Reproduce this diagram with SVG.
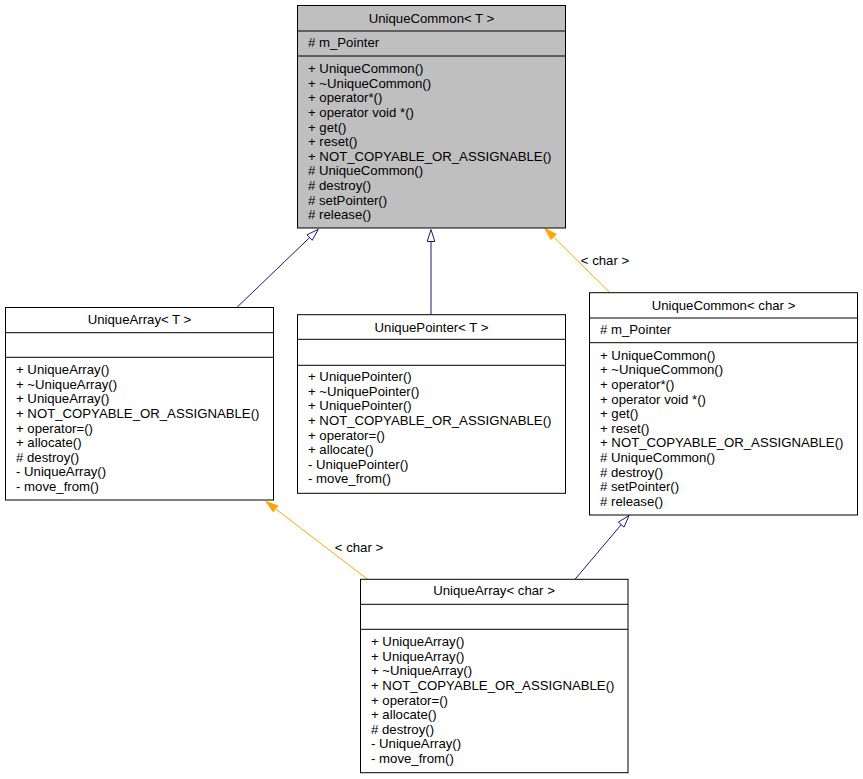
<svg xmlns="http://www.w3.org/2000/svg" width="863" height="779" viewBox="0 0 863 779">
<style>
  text { font-family: "Liberation Sans", Arial, sans-serif; font-size: 13.2px; fill: #000; }
  .t { text-anchor: middle; }
  .box { fill: #fff; stroke: #000; stroke-width: 1; }
  .boxg { fill: #bfbfbf; stroke: #000; stroke-width: 1; }
  .sep { stroke: #000; stroke-width: 1; }
  .inh { stroke: #191970; stroke-width: 1; fill: none; }
  .inhh { stroke: #191970; stroke-width: 1; fill: #fff; }
  .tpl { stroke: #ffa500; stroke-width: 1; fill: none; }
  .tplh { stroke: #ffa500; stroke-width: 1; fill: #ffa500; }
</style>
<rect width="863" height="779" fill="#fff"/>

<g id="connectors">
  <line class="inh" x1="237" y1="307.3" x2="309.6" y2="237.6"/>
  <polygon class="inhh" points="318.3,229.3 312.2,240.3 307,234.8"/>
  <line class="inh" x1="431" y1="314.7" x2="431" y2="241.5"/>
  <polygon class="inhh" points="431,229.5 434.8,241.5 427.2,241.5"/>
  <line class="tpl" x1="610" y1="292.7" x2="553.5" y2="236.9"/>
  <polygon class="tplh" points="545,228.5 556.2,234.2 550.9,239.6"/>
  <text x="605" y="264.5" class="t">&lt; char &gt;</text>
  <line class="tpl" x1="367.5" y1="579.3" x2="275.5" y2="508.8"/>
  <polygon class="tplh" points="266,501.5 277.8,505.8 273.2,511.8"/>
  <text x="359" y="551.5" class="t">&lt; char &gt;</text>
  <line class="inh" x1="575" y1="579.3" x2="621.2" y2="524.7"/>
  <polygon class="inhh" points="629,515.5 624.1,527.1 618.3,522.2"/>
</g>

<g id="UniqueCommonT">
  <rect class="boxg" x="297.5" y="5.5" width="268" height="222.5"/>
  <line class="sep" x1="297.5" y1="31" x2="565.5" y2="31"/>
  <line class="sep" x1="297.5" y1="56" x2="565.5" y2="56"/>
  <text x="431.5" y="23" class="t">UniqueCommon&lt; T &gt;</text>
  <text x="308" y="47.3"># m_Pointer</text>
  <text x="308" y="73.2">+ UniqueCommon()</text>
  <text x="308" y="87.8">+ ~UniqueCommon()</text>
  <text x="308" y="102.4">+ operator*()</text>
  <text x="308" y="117">+ operator void *()</text>
  <text x="308" y="131.6">+ get()</text>
  <text x="308" y="146.2">+ reset()</text>
  <text x="308" y="160.8">+ NOT_COPYABLE_OR_ASSIGNABLE()</text>
  <text x="308" y="175.4"># UniqueCommon()</text>
  <text x="308" y="190"># destroy()</text>
  <text x="308" y="204.6"># setPointer()</text>
  <text x="308" y="219.2"># release()</text>
</g>

<g id="UniqueArrayT">
  <rect class="box" x="5.5" y="307.5" width="268" height="192.5"/>
  <line class="sep" x1="5.5" y1="332.7" x2="273.5" y2="332.7"/>
  <line class="sep" x1="5.5" y1="357.3" x2="273.5" y2="357.3"/>
  <text x="139.5" y="324" class="t">UniqueArray&lt; T &gt;</text>
  <text x="16" y="374.2">+ UniqueArray()</text>
  <text x="16" y="388.8">+ ~UniqueArray()</text>
  <text x="16" y="403.4">+ UniqueArray()</text>
  <text x="16" y="418">+ NOT_COPYABLE_OR_ASSIGNABLE()</text>
  <text x="16" y="432.6">+ operator=()</text>
  <text x="16" y="447.2">+ allocate()</text>
  <text x="16" y="461.8"># destroy()</text>
  <text x="16" y="476.4">- UniqueArray()</text>
  <text x="16" y="491">- move_from()</text>
</g>

<g id="UniquePointerT">
  <rect class="box" x="297.5" y="314.7" width="268" height="178.6"/>
  <line class="sep" x1="297.5" y1="339.3" x2="565.5" y2="339.3"/>
  <line class="sep" x1="297.5" y1="365.3" x2="565.5" y2="365.3"/>
  <text x="431.5" y="331.5" class="t">UniquePointer&lt; T &gt;</text>
  <text x="308" y="381.2">+ UniquePointer()</text>
  <text x="308" y="395.8">+ ~UniquePointer()</text>
  <text x="308" y="410.4">+ UniquePointer()</text>
  <text x="308" y="425">+ NOT_COPYABLE_OR_ASSIGNABLE()</text>
  <text x="308" y="439.6">+ operator=()</text>
  <text x="308" y="454.2">+ allocate()</text>
  <text x="308" y="468.8">- UniquePointer()</text>
  <text x="308" y="483.4">- move_from()</text>
</g>

<g id="UniqueCommonChar">
  <rect class="box" x="589.5" y="292.7" width="268" height="222.3"/>
  <line class="sep" x1="589.5" y1="318" x2="857.5" y2="318"/>
  <line class="sep" x1="589.5" y1="342.7" x2="857.5" y2="342.7"/>
  <text x="723.5" y="309.7" class="t">UniqueCommon&lt; char &gt;</text>
  <text x="600" y="334"># m_Pointer</text>
  <text x="600" y="359.7">+ UniqueCommon()</text>
  <text x="600" y="374.3">+ ~UniqueCommon()</text>
  <text x="600" y="388.9">+ operator*()</text>
  <text x="600" y="403.5">+ operator void *()</text>
  <text x="600" y="418.1">+ get()</text>
  <text x="600" y="432.7">+ reset()</text>
  <text x="600" y="447.3">+ NOT_COPYABLE_OR_ASSIGNABLE()</text>
  <text x="600" y="461.9"># UniqueCommon()</text>
  <text x="600" y="476.5"># destroy()</text>
  <text x="600" y="491.1"># setPointer()</text>
  <text x="600" y="505.7"># release()</text>
</g>

<g id="UniqueArrayChar">
  <rect class="box" x="360.5" y="579.3" width="267.5" height="193.4"/>
  <line class="sep" x1="360.5" y1="604.3" x2="628" y2="604.3"/>
  <line class="sep" x1="360.5" y1="629.3" x2="628" y2="629.3"/>
  <text x="494" y="595.4" class="t">UniqueArray&lt; char &gt;</text>
  <text x="371" y="646.2">+ UniqueArray()</text>
  <text x="371" y="660.8">+ UniqueArray()</text>
  <text x="371" y="675.4">+ ~UniqueArray()</text>
  <text x="371" y="690">+ NOT_COPYABLE_OR_ASSIGNABLE()</text>
  <text x="371" y="704.6">+ operator=()</text>
  <text x="371" y="719.2">+ allocate()</text>
  <text x="371" y="733.8"># destroy()</text>
  <text x="371" y="748.4">- UniqueArray()</text>
  <text x="371" y="763">- move_from()</text>
</g>
</svg>
